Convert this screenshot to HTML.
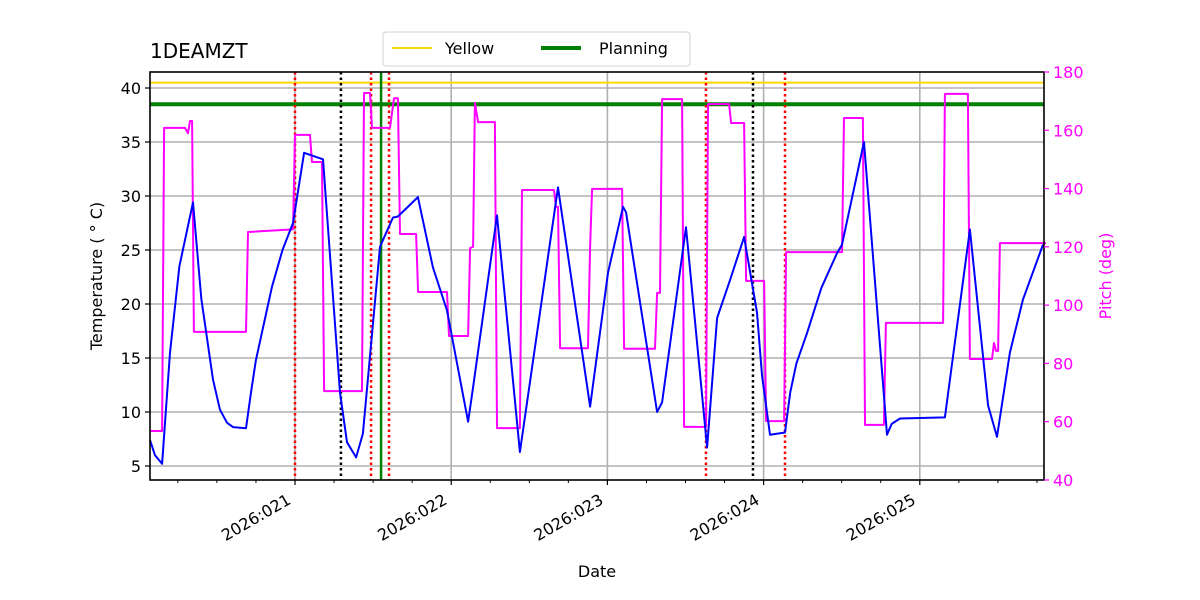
<!DOCTYPE html>
<html><head><meta charset="utf-8"><style>
html,body{margin:0;padding:0;background:#fff;}
svg{display:block;font-family:"DejaVu Sans","Liberation Sans",sans-serif;}
</style></head><body>
<svg id="chart" width="1200" height="600" viewBox="0 0 1200 600"></svg>
<script>
const tempDays=[20.072,20.104,20.149,20.20,20.26,20.347,20.40,20.475,20.520,20.565,20.603,20.686,20.72,20.75,20.853,20.92,20.987,21.058,21.179,21.288,21.333,21.391,21.435,21.544,21.627,21.659,21.787,21.883,21.973,22.108,22.140,22.293,22.440,22.684,22.889,23.004,23.100,23.119,23.318,23.350,23.503,23.638,23.702,23.785,23.875,23.958,23.990,24.041,24.137,24.17,24.21,24.278,24.37,24.470,24.502,24.643,24.790,24.82,24.873,25.161,25.321,25.437,25.494,25.577,25.66,25.789];
const tempVals=[7.4,6.0,5.2,15.5,23.5,29.4,20.5,13.0,10.2,9.0,8.6,8.5,12.0,14.8,21.6,25.0,27.5,34.0,33.4,11.8,7.2,5.8,8.0,25.3,28.0,28.1,29.9,23.4,19.4,9.1,12.3,28.2,6.3,30.8,10.5,22.9,29.0,28.5,10.0,10.9,27.1,6.7,18.7,22.2,26.2,19.2,13.4,7.9,8.1,11.8,14.5,17.3,21.5,24.7,25.5,35.0,7.9,8.9,9.4,9.5,26.9,10.6,7.7,15.5,20.4,25.5];
const pitchDays=[20.072,20.149,20.162,20.296,20.315,20.328,20.341,20.353,20.686,20.699,20.987,21.0,21.096,21.109,21.173,21.186,21.429,21.442,21.480,21.493,21.608,21.634,21.659,21.672,21.775,21.788,21.973,21.986,22.108,22.121,22.140,22.152,22.172,22.280,22.293,22.440,22.453,22.658,22.671,22.684,22.697,22.876,22.889,22.902,23.094,23.107,23.305,23.318,23.337,23.350,23.478,23.491,23.631,23.644,23.779,23.792,23.875,23.888,24.003,24.016,24.131,24.144,24.502,24.515,24.636,24.649,24.770,24.783,25.149,25.161,25.308,25.321,25.462,25.475,25.488,25.501,25.513,25.808];
const pitchVals=[56.8,56.8,160.8,160.8,159,163.2,163.2,90.8,90.8,125.1,126,158.4,158.4,149.1,149.1,70.5,70.5,172.8,172.8,160.8,160.8,171.0,171.0,124.4,124.4,104.5,104.5,89.4,89.4,119.6,120,169.4,162.8,162.8,57.8,57.8,139.5,139.5,133.7,133.7,85.2,85.2,120,139.9,139.9,85.0,85.0,104.2,104.2,170.7,170.7,58.2,58.2,169.0,169.0,162.5,162.5,108.3,108.3,60.2,60.2,118.2,118.2,164.2,164.2,58.9,58.9,93.9,93.9,172.5,172.5,81.5,81.5,87,84.3,84.3,121.3,121.3];
const tempTicks=[5,10,15,20,25,30,35,40];
const pitchTicks=[40,60,80,100,120,140,160,180];
const dayTicks=[21,22,23,24,25];
const dayLabels=["2026:021","2026:022","2026:023","2026:024","2026:025"];
const redLines=[21.0,21.487,21.602,23.631,24.137];
const blackLines=[21.294,23.932];
const greenLines=[21.551];
const yellowLimit=[40.5];
const planningLimit=[38.5];

const L=150,R=1044,T=72,B=480;
const x=d=>295+(d-21)*156.2;
const yT=t=>466-(t-5)*10.8;
const yP=p=>72+(180-p)*2.914;
const svg=document.getElementById('chart');
const NS='http://www.w3.org/2000/svg';
function mk(tag,attrs,parent){const e=document.createElementNS(NS,tag);for(const k in attrs)e.setAttribute(k,attrs[k]);(parent||svg).appendChild(e);return e;}

const grid=mk('g',{});


tempTicks.forEach(t=>{mk('line',{x1:L,x2:R,y1:yT(t),y2:yT(t),stroke:'#b0b0b0','stroke-width':1.6},grid);});
dayTicks.forEach(d=>{mk('line',{x1:x(d),x2:x(d),y1:T,y2:B,stroke:'#b0b0b0','stroke-width':1.6},grid);});

function hline(v,color,w,name){const e=mk('line',{x1:L,x2:R,y1:yT(v),y2:yT(v),stroke:color,'stroke-width':w});

}
yellowLimit.forEach(v=>hline(v,'#ffd700',2,'yellow-limit-line'));
planningLimit.forEach(v=>hline(v,'#008000',4,'planning-limit-line'));

function vline(d,color,dash,w,name){const e=mk('line',{x1:x(d),x2:x(d),y1:T,y2:B,stroke:color,'stroke-width':w});
if(dash)e.setAttribute('stroke-dasharray',dash);

}
redLines.forEach(d=>vline(d,'#ff0000','2.5,3',2.5,'red-event-line'));
blackLines.forEach(d=>vline(d,'#000000','2.5,3',2.5,'black-event-line'));
greenLines.forEach(d=>vline(d,'#008000',null,2.5,'green-event-line'));

let pp=pitchDays.map((d,i)=>x(d).toFixed(1)+','+yP(pitchVals[i]).toFixed(1)).join(' ');
const pl=mk('polyline',{points:pp,fill:'none',stroke:'#ff00ff','stroke-width':2,'stroke-linejoin':'round'});


let tp=tempDays.map((d,i)=>x(d).toFixed(1)+','+yT(tempVals[i]).toFixed(1)).join(' ');
const tl=mk('polyline',{points:tp,fill:'none',stroke:'#0000ff','stroke-width':2,'stroke-linejoin':'round'});



const frame=mk('rect',{x:L,y:T,width:R-L,height:B-T,fill:'none',stroke:'#000','stroke-width':1.6});



tempTicks.forEach(t=>{mk('line',{x1:L-5,x2:L,y1:yT(t),y2:yT(t),stroke:'#000','stroke-width':1.2});
const tx=mk('text',{x:L-9,y:yT(t)+6,'text-anchor':'end','font-size':16,fill:'#000'});tx.textContent=t;

});
pitchTicks.forEach(p=>{mk('line',{x1:R,x2:R+5,y1:yP(p),y2:yP(p),stroke:'#ff00ff','stroke-width':1.2});
const tx=mk('text',{x:R+9,y:yP(p)+6,'font-size':16,fill:'#ff00ff'});tx.textContent=p;

});
for(let d=20.25;d<25.8;d+=0.25){if(Math.abs(d-Math.round(d))<0.01)continue;mk('line',{x1:x(d),x2:x(d),y1:B,y2:B+3,stroke:'#000','stroke-width':1});}
dayTicks.forEach((d,i)=>{mk('line',{x1:x(d),x2:x(d),y1:B,y2:B+5,stroke:'#000','stroke-width':1.2});
const ax=x(d)-3, ay=B+23;
const tx=mk('text',{x:ax,y:ay,'text-anchor':'end','font-size':16,fill:'#000',transform:`rotate(-30 ${ax} ${ay})`});tx.textContent=dayLabels[i];

});

function txt(s,a,name){const e=mk('text',a);e.textContent=s;

return e;}
txt('1DEAMZT',{x:150,y:58,'font-size':20,fill:'#000'},'chart-title');
txt('Date',{x:597,y:577,'text-anchor':'middle','font-size':16,fill:'#000'},'x-axis-title');
txt('Temperature ( ° C)',{x:102,y:276,'text-anchor':'middle','font-size':16,fill:'#000',transform:'rotate(-90 102 276)'},'y-axis-title-left');
txt('Pitch (deg)',{x:1111,y:276,'text-anchor':'middle','font-size':16,fill:'#ff00ff',transform:'rotate(-90 1111 276)'},'y-axis-title-right');

const lg=mk('g',{});


mk('rect',{x:383,y:32,width:307,height:34,rx:3,fill:'#fff',stroke:'#d0d0d0','stroke-width':1},lg);
mk('line',{x1:392,x2:432,y1:48,y2:48,stroke:'#ffd700','stroke-width':2},lg);
const t1=mk('text',{x:445,y:54,'font-size':16,fill:'#000'},lg);t1.textContent='Yellow';
mk('line',{x1:541,x2:581,y1:48,y2:48,stroke:'#008000','stroke-width':4},lg);
const t2=mk('text',{x:599,y:54,'font-size':16,fill:'#000'},lg);t2.textContent='Planning';
</script>
</body></html>
